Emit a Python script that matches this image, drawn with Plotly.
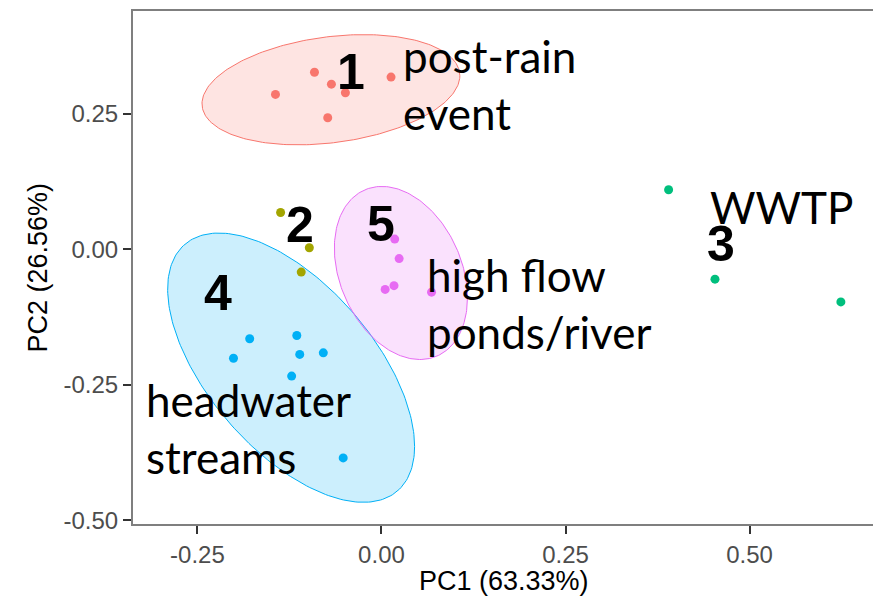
import numpy as np
import plotly.graph_objects as go

# ---- data ----
group_names = ["1", "2", "3", "4", "5"]
group_colors = ["#F8766D", "#A3A500", "#00BF7D", "#00B0F6", "#E76BF3"]

pc1_g1 = [-0.144, -0.091, -0.068, -0.049, -0.073, 0.013]
pc2_g1 = [0.286, 0.327, 0.305, 0.289, 0.243, 0.318]
pc1_g2 = [-0.137, -0.098, -0.109]
pc2_g2 = [0.068, 0.003, -0.042]
pc1_g3 = [0.390, 0.453, 0.624]
pc2_g3 = [0.110, -0.055, -0.097]
pc1_g4 = [-0.179, -0.115, -0.201, -0.111, -0.079, -0.122, -0.052]
pc2_g4 = [-0.165, -0.159, -0.201, -0.194, -0.191, -0.234, -0.385]
pc1_g5 = [0.018, 0.024, 0.005, 0.017, 0.068]
pc2_g5 = [0.019, -0.017, -0.074, -0.067, -0.079]

pc1 = [pc1_g1, pc1_g2, pc1_g3, pc1_g4, pc1_g5]
pc2 = [pc2_g1, pc2_g2, pc2_g3, pc2_g4, pc2_g5]
ellipse_groups = [0, 3, 4]

# cluster number labels and descriptive labels (data coordinates)
num_labels = ["1", "2", "3", "4", "5"]
num_x = [-0.042, -0.111, 0.461, -0.222, -0.001]
num_y = [0.327, 0.045, 0.009, -0.080, 0.047]

desc_labels = ["post-rain<br>event", "high flow<br>ponds/river", "headwater<br>streams", "WWTP"]
desc_x = [0.027, 0.059, -0.322, 0.444]
desc_y = [0.305, -0.100, -0.331, 0.079]

x_ticks = [-0.25, 0.0, 0.25, 0.5]
x_ticktext = ["-0.25", "0.00", "0.25", "0.50"]
y_ticks = [-0.5, -0.25, 0.0, 0.25]
y_ticktext = ["-0.50", "-0.25", "0.00", "0.25"]
x_title = "PC1 (63.33%)"
y_title = "PC2 (26.56%)"


def ellipse(xs, ys, level=0.95, n=240):
    pts = np.column_stack([xs, ys])
    m = pts.mean(axis=0)
    cov = np.cov(pts.T)
    d = len(xs) - 1
    f = d / 2.0 * ((1 - level) ** (-2.0 / d) - 1)
    r = np.sqrt(2 * f)
    ch = np.linalg.cholesky(cov)
    t = np.linspace(0, 2 * np.pi, n)
    circ = np.vstack([np.cos(t), np.sin(t)])
    e = m[:, None] + r * ch @ circ
    return e[0], e[1]


def rgba(hexc, a):
    h = hexc.lstrip("#")
    return "rgba(%d,%d,%d,%.2f)" % (int(h[0:2], 16), int(h[2:4], 16), int(h[4:6], 16), a)


fig = go.Figure()

for g in ellipse_groups:
    ex, ey = ellipse(pc1[g], pc2[g])
    fig.add_trace(go.Scatter(x=ex, y=ey, mode="lines", fill="toself",
                             fillcolor=rgba(group_colors[g], 0.2),
                             line=dict(color=group_colors[g], width=1),
                             hoverinfo="skip", showlegend=False))

for g in range(5):
    fig.add_trace(go.Scatter(x=pc1[g], y=pc2[g], mode="markers",
                             marker=dict(color=group_colors[g], size=9),
                             name=group_names[g], showlegend=False))

for t, x, y in zip(num_labels, num_x, num_y):
    fig.add_annotation(x=x, y=y, text="<b>%s</b>" % t, showarrow=False,
                       xanchor="center", yanchor="middle",
                       font=dict(family="Liberation Sans, Arial", size=50, color="black"))

for t, x, y in zip(desc_labels, desc_x, desc_y):
    fig.add_annotation(x=x, y=y, text=t, showarrow=False, align="left",
                       xanchor="left", yanchor="middle",
                       font=dict(family="Lato", size=44, color="black"))

fig.add_annotation(x=0.5, y=0, xref="paper", yref="paper", text=x_title,
                   showarrow=False, xanchor="center", yanchor="middle", yshift=-57,
                   font=dict(family="Liberation Sans, Arial", size=27, color="black"))
fig.add_annotation(x=0, y=0.5, xref="paper", yref="paper", text=y_title,
                   showarrow=False, xanchor="center", yanchor="middle", xshift=-96,
                   textangle=-90,
                   font=dict(family="Liberation Sans, Arial", size=27, color="black"))

axis_common = dict(showgrid=False, zeroline=False, showline=True, mirror=True,
                   linecolor="#7f7f7f", linewidth=2, ticks="outside", ticklen=8,
                   tickcolor="#333333", tickwidth=1.5,
                   tickfont=dict(family="Liberation Sans, Arial", size=24, color="#4D4D4D"))

# the page body has an 8px default margin, so the figure is offset by (8, 8)
fig.update_layout(
    width=873, height=591, autosize=False,
    margin=dict(l=125, r=7, t=1, b=75),
    paper_bgcolor="white", plot_bgcolor="white",
    xaxis=dict(range=[-0.3375, 0.669], tickvals=x_ticks, ticktext=x_ticktext, **axis_common),
    yaxis=dict(range=[-0.507, 0.440], tickvals=y_ticks, ticktext=y_ticktext, **axis_common),
)

fig.write_html("out.html")
